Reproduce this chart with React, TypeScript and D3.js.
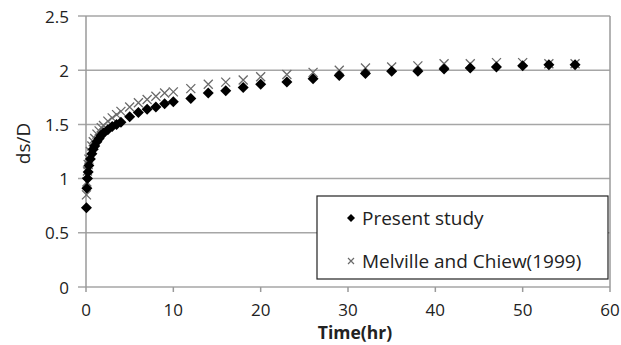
import * as d3 from "d3";

// Data
const times = [
  0.05, 0.1, 0.17, 0.25, 0.33, 0.5, 0.67, 0.83, 1, 1.25, 1.5, 1.75, 2, 2.5, 3, 3.5, 4,
  5, 6, 7, 8, 9, 10, 12, 14, 16, 18, 20, 23, 26, 29, 32, 35, 38, 41, 44, 47, 50, 53, 56,
];
const presentStudy = [
  0.73, 0.91, 1.0, 1.06, 1.12, 1.18, 1.23, 1.27, 1.3, 1.34, 1.37, 1.4, 1.42, 1.45, 1.48, 1.5, 1.52,
  1.57, 1.61, 1.64, 1.66, 1.69, 1.71, 1.74, 1.79, 1.81, 1.84, 1.87, 1.89, 1.92, 1.95, 1.97, 1.99, 1.99,
  2.01, 2.02, 2.03, 2.04, 2.05, 2.05,
];
const melvilleChiew = [
  0.85, 0.97, 1.07, 1.13, 1.18, 1.25, 1.3, 1.34, 1.37, 1.41, 1.44, 1.47, 1.49, 1.53, 1.56, 1.59, 1.62,
  1.66, 1.7, 1.73, 1.76, 1.79, 1.8, 1.83, 1.87, 1.89, 1.91, 1.94, 1.96, 1.98, 2.0, 2.02, 2.03, 2.04,
  2.06, 2.06, 2.07, 2.07, 2.06, 2.06,
];
const xTicks = [0, 10, 20, 30, 40, 50, 60];
const yTicks = [0, 0.5, 1, 1.5, 2, 2.5];
const legendLabels = ["Present study", "Melville and Chiew(1999)"];

const W = 621;
const H = 345;
const FONT = "'Open Sans', 'DejaVu Sans', sans-serif";

// square-ish diamond marker
const diamondPath = (r: number) => `M0,${-r}L${r},0L0,${r}L${-r},0Z`;
const crossPath = (r: number) => `M${-r},${-r}L${r},${r}M${-r},${r}L${r},${-r}`;

export default function App() {
  const margin = { top: 16, right: 11, bottom: 58, left: 86 };
  const innerW = W - margin.left - margin.right;
  const innerH = H - margin.top - margin.bottom;

  const x = d3.scaleLinear().domain([0, 60]).range([0, innerW]);
  const y = d3.scaleLinear().domain([0, 2.5]).range([innerH, 0]);

  return (
    <svg
      width={W}
      height={H}
      style={{ position: "absolute", left: 0, top: 0, background: "#fff" }}
      fontFamily={FONT}
    >
      <g transform={`translate(${margin.left},${margin.top})`}>
        {/* Grid */}
        {yTicks.map((t) => (
          <line
            key={`yg-${t}`}
            x1={-8}
            x2={innerW}
            y1={y(t)}
            y2={y(t)}
            stroke="#a6a6a6"
            strokeWidth={1.5}
          />
        ))}
        {/* Axes and frame */}
        <line x1={0} x2={0} y1={0} y2={innerH} stroke="#9a9a9a" strokeWidth={1.5} />
        <line x1={innerW} x2={innerW} y1={0} y2={innerH} stroke="#9a9a9a" strokeWidth={1.5} />
        {xTicks.map((t) => (
          <line
            key={`xt-${t}`}
            x1={x(t)}
            x2={x(t)}
            y1={innerH}
            y2={innerH + 5}
            stroke="#9a9a9a"
            strokeWidth={1.5}
          />
        ))}

        {/* Tick labels */}
        {yTicks.map((t) => (
          <text
            key={`yl-${t}`}
            x={-17}
            y={y(t)}
            textAnchor="end"
            dominantBaseline="central"
            fontSize={17}
            fill="#222"
          >
            {t}
          </text>
        ))}
        {xTicks.map((t) => (
          <text
            key={`xl-${t}`}
            x={x(t)}
            y={innerH + 22}
            textAnchor="middle"
            dominantBaseline="central"
            fontSize={17}
            fill="#222"
          >
            {t}
          </text>
        ))}

        {/* Axis titles */}
        <text
          x={innerW / 2 + 7}
          y={innerH + 45}
          textAnchor="middle"
          dominantBaseline="central"
          fontSize={17.5}
          fontWeight={700}
          fill="#222"
        >
          Time(hr)
        </text>
        <text
          transform={`translate(${-63},${innerH / 2 - 8}) rotate(-90)`}
          textAnchor="middle"
          dominantBaseline="central"
          fontSize={19}
          fill="#222"
        >
          ds/D
        </text>

        {/* Melville and Chiew crosses */}
        {times.map((t, i) => (
          <path
            key={`m-${i}`}
            d={crossPath(4.5)}
            transform={`translate(${x(t)},${y(melvilleChiew[i])})`}
            stroke="#6a6a6a"
            strokeWidth={1.3}
            fill="none"
          />
        ))}
        {/* Present study diamonds */}
        {times.map((t, i) => (
          <path
            key={`p-${i}`}
            d={diamondPath(5.5)}
            transform={`translate(${x(t)},${y(presentStudy[i])})`}
            fill="#000"
          />
        ))}
      </g>

      {/* Legend */}
      <g transform="translate(317,196)">
        <rect x={0} y={0} width={291} height={83} fill="#fff" stroke="#222" strokeWidth={1.2} />
        <path d={diamondPath(4)} transform="translate(34,22)" fill="#000" />
        <text x={45} y={22} dominantBaseline="central" fontSize={19} fill="#222">
          {legendLabels[0]}
        </text>
        <path d={crossPath(3)} transform="translate(34,65)" stroke="#6a6a6a" strokeWidth={1.2} />
        <text x={45} y={65} dominantBaseline="central" fontSize={19} fill="#222">
          {legendLabels[1]}
        </text>
      </g>
    </svg>
  );
}
